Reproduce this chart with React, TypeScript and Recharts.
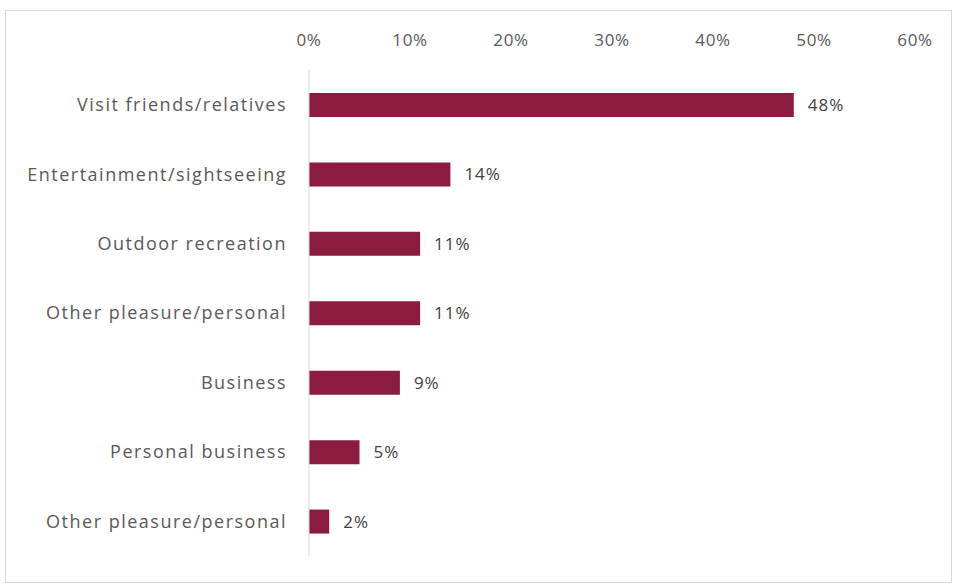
import React from "react";
import { BarChart, Bar, XAxis, YAxis, LabelList } from "recharts";

const categories = [
  "Visit friends/relatives",
  "Entertainment/sightseeing",
  "Outdoor recreation",
  "Other pleasure/personal",
  "Business",
  "Personal business",
  "Other pleasure/personal",
];
const shares = [0.48, 0.14, 0.11, 0.11, 0.09, 0.05, 0.02];
const xTicks = [0, 0.1, 0.2, 0.3, 0.4, 0.5, 0.6];

const data = categories.map((name, i) => ({ id: i, name, value: shares[i] }));

const pct = (v: number) => `${Math.round(v * 100)}%`;
const FONT = "'Open Sans', sans-serif";

export default function App() {
  return (
    <div style={{ position: "absolute", left: 0, top: 0, width: 954, height: 584, background: "#fff", fontFamily: FONT }}>
      <div style={{ position: "absolute", left: 5, top: 10, width: 945, height: 571, border: "1px solid #d9d9d9" }} />
      <div style={{ position: "absolute", left: 0, top: 0 }}>
        <BarChart
          width={954}
          height={584}
          data={data}
          layout="vertical"
          margin={{ top: 40, right: 39, bottom: 28, left: 9 }}
          barCategoryGap={0}
        >
          <XAxis
            type="number"
            orientation="top"
            domain={[0, 0.6]}
            ticks={xTicks}
            tickFormatter={pct}
            axisLine={false}
            tickLine={false}
            tickMargin={18}
            tick={{ fill: "#595959", fontSize: 17, fontFamily: FONT, letterSpacing: 0.6 }}
          />
          <YAxis
            type="category"
            dataKey="id"
            width={300}
            tickFormatter={(i: number) => categories[i]}
            axisLine={{ stroke: "#d9d9d9" }}
            tickLine={false}
            tickMargin={16}
            tick={{ fill: "#595959", fontSize: 18, fontFamily: FONT, letterSpacing: 1.5 }}
          />
          <Bar dataKey="value" fill="#8B1C40" barSize={24} isAnimationActive={false}>
            <LabelList
              dataKey="value"
              position="right"
              offset={14}
              formatter={(v: number) => pct(v)}
              style={{ fill: "#404040", fontSize: 17, fontFamily: FONT, letterSpacing: 1 }}
            />
          </Bar>
        </BarChart>
      </div>
    </div>
  );
}
